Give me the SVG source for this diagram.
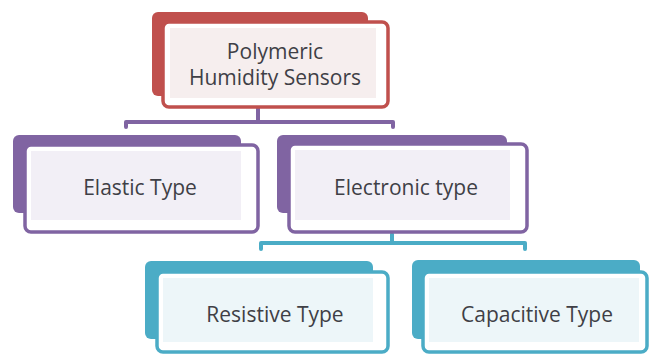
<svg xmlns="http://www.w3.org/2000/svg" width="649" height="356" viewBox="0 0 649 356">
<style>
.t{font-family:"Open Sans","Liberation Sans",sans-serif;font-size:21px;fill:#3f3f46;text-anchor:middle}
.red .back{fill:#c0504d}
.red .front{fill:#ffffff;stroke:#c0504d;stroke-width:3.5}
.red .inner{fill:#f6eeee}
.pur .back{fill:#8064a2}
.pur .front{fill:#ffffff;stroke:#8064a2;stroke-width:3.5}
.pur .inner{fill:#f2eff6}
.tea .back{fill:#4bacc6}
.tea .front{fill:#ffffff;stroke:#4bacc6;stroke-width:3.5}
.tea .inner{fill:#edf6f9}
.c{fill:none;stroke-width:4;stroke-linejoin:round;stroke-linecap:round}
</style>
<rect width="649" height="356" fill="#ffffff"/>
<g id="connectors">
<path class="c" stroke="#8064a2" d="M258 108 V122 M126 127 V122 H393 V127"/>
<path class="c" stroke="#4bacc6" d="M392 234 V243 M261 249 V243 H525 V249"/>
</g>
<g id="n_root" class="red">
<rect class="back" x="152" y="12" width="216" height="84" rx="6"/>
<rect class="front" x="163" y="22" width="225" height="85" rx="6"/>
<rect class="inner" x="170" y="28" width="206" height="70"/>
<text class="t" x="275" y="59">Polymeric</text>
<text class="t" x="275" y="85">Humidity Sensors</text>
</g>
<g id="n_elastic" class="pur">
<rect class="back" x="13" y="135" width="228" height="78" rx="6"/>
<rect class="front" x="25" y="145" width="233" height="87" rx="6"/>
<rect class="inner" x="31" y="151" width="210" height="69"/>
<text class="t" x="140" y="195">Elastic Type</text>
</g>
<g id="n_electronic" class="pur">
<rect class="back" x="277" y="135" width="230" height="78" rx="6"/>
<rect class="front" x="289" y="144" width="238" height="88" rx="6"/>
<rect class="inner" x="295" y="150" width="215" height="70"/>
<text class="t" x="406" y="195">Electronic type</text>
</g>
<g id="n_resistive" class="tea">
<rect class="back" x="145" y="261" width="228" height="78" rx="6"/>
<rect class="front" x="157" y="272" width="231" height="80" rx="6"/>
<rect class="inner" x="163" y="278" width="210" height="64"/>
<text class="t" x="275" y="322">Resistive Type</text>
</g>
<g id="n_capacitive" class="tea">
<rect class="back" x="412" y="260" width="228" height="79" rx="6"/>
<rect class="front" x="423" y="272" width="224" height="80" rx="6"/>
<rect class="inner" x="429" y="278" width="210" height="64"/>
<text class="t" x="537" y="322">Capacitive Type</text>
</g>
</svg>
